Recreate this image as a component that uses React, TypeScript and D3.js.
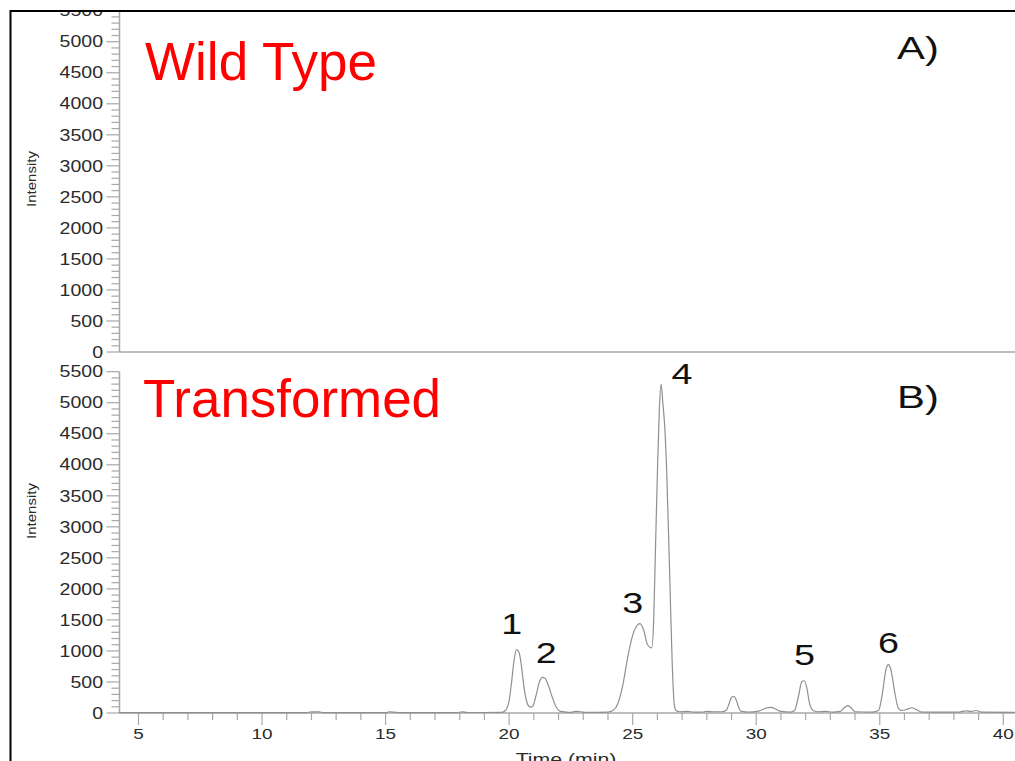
import React from "react";
import * as d3 from "d3";

// Chromatogram (Transformed) — time (min), intensity
const times = [
  4.2, 6, 8, 10, 11.8, 12.0, 12.3, 12.5, 15.0, 15.15, 15.4, 15.6, 17.9, 18.1, 18.3, 19.7,
  19.85, 20.0, 20.1, 20.2, 20.3, 20.4, 20.5, 20.6, 20.7, 20.8, 20.9,
  21.0, 21.1, 21.2, 21.35, 21.45, 21.6, 21.75, 21.9, 22.05, 22.3, 22.5, 22.7, 22.9, 23.1, 24.0,
  24.2, 24.4, 24.6, 24.8, 25.0, 25.2, 25.3, 25.45, 25.6, 25.77, 25.85, 25.92, 26.0, 26.08, 26.15,
  26.22, 26.3, 26.38, 26.5, 26.6, 26.68, 26.75, 26.9, 27.2, 27.5, 27.8, 28.0, 28.3, 28.6,
  28.8, 28.9, 29.0, 29.1, 29.2, 29.3, 29.4, 29.7,
  30.1, 30.4, 30.6, 30.8, 31.0, 31.4,
  31.55, 31.7, 31.85, 31.95, 32.05, 32.15, 32.3, 32.5, 32.8, 33.1, 33.4,
  33.55, 33.7, 33.85, 34.0, 34.7,
  34.95, 35.1, 35.25, 35.35, 35.45, 35.6, 35.75, 35.9, 36.1, 36.3, 36.5, 36.7, 38.2, 38.5, 38.7, 38.9, 39.1, 40.5,
];
const intensity = [
  5, 5, 5, 5, 5, 18, 18, 5, 5, 20, 12, 5, 5, 18, 8, 10,
  40, 200, 500, 850, 1020, 980, 750, 420, 200, 110, 95,
  150, 300, 470, 575, 560, 430, 250, 100, 30, 15, 10, 25, 20, 10, 15,
  40, 150, 450, 900, 1250, 1420, 1440, 1330, 1100, 1050, 1500, 2600, 3860, 4900, 5300,
  5000, 4600, 3860, 2200, 800, 150, 40, 20, 25, 15, 15, 25, 20, 20,
  50, 150, 250, 270, 200, 80, 25, 15,
  30, 80, 90, 60, 25, 15,
  40, 250, 510, 520, 400, 170, 40, 20, 25, 15, 25,
  80, 120, 80, 20, 15,
  40, 300, 700, 780, 700, 350, 80, 40, 60, 85, 50, 15, 15, 35, 25, 40, 15, 10,
];

const yTicksMajor = [0, 500, 1000, 1500, 2000, 2500, 3000, 3500, 4000, 4500, 5000, 5500];
const xTicksMajor = [5, 10, 15, 20, 25, 30, 35, 40];
const peakLabels = ["1", "2", "3", "4", "5", "6"];
const peakTimes = [20.1, 21.5, 25.0, 27.0, 31.95, 35.35];
const peakLabelValues = [1275, 800, 1610, 5300, 775, 960];

const W = 1015;
const H = 761;

export default function App() {
  const x = d3.scaleLinear().domain([5, 40]).range([138.5, 1003.3]);
  const yTop = d3.scaleLinear().domain([0, 5500]).range([352, 10.7]);
  const yBot = d3.scaleLinear().domain([0, 5500]).range([713, 371.7]);
  const axisX = 119.5;
  const axisColor = "#a8a8a8";
  const labelColor = "#2a2a2a";

  const minor = d3.range(0, 5501, 100);
  const xMinor = d3.range(5, 41, 1);

  const pts: [number, number][] = times.map((t, i) => [t, intensity[i]]);
  const line = d3
    .line<[number, number]>()
    .x((d) => x(d[0]))
    .y((d) => yBot(d[1]))
    .curve(d3.curveMonotoneX);

  const yAxis = (y: d3.ScaleLinear<number, number>, key: string) => (
    <g key={key}>
      <line x1={axisX} x2={axisX} y1={y(5500)} y2={y(0)} stroke={axisColor} strokeWidth={1.5} />
      {minor.map((v) => (
        <line
          key={v}
          x1={v % 500 === 0 ? axisX - 13 : axisX - 8}
          x2={axisX}
          y1={y(v)}
          y2={y(v)}
          stroke={axisColor}
          strokeWidth={1.2}
        />
      ))}
      {yTicksMajor.map((v) => (
        <text
          key={v}
          transform={`translate(103,${y(v) + 5.7}) scale(1.22,1)`}
          textAnchor="end"
          fontSize={16}
          fill={labelColor}
        >
          {v}
        </text>
      ))}
    </g>
  );

  return (
    <svg
      width={W}
      height={H}
      style={{ position: "absolute", left: 0, top: 0, background: "#fff" }}
      fontFamily="'Liberation Sans', Arial, Helvetica, sans-serif"
    >
      <defs>
        <clipPath id="frame">
          <rect x={11} y={12} width={W} height={H} />
        </clipPath>
      </defs>
      <rect x={0} y={0} width={W} height={H} fill="#fff" />
      <g clipPath="url(#frame)">
        {/* Top panel */}
        {yAxis(yTop, "top")}
        <line x1={axisX} x2={W} y1={yTop(0)} y2={yTop(0)} stroke={axisColor} strokeWidth={1.5} />
        <text
          transform="translate(36,179) rotate(-90) scale(1,0.8)"
          textAnchor="middle"
          fontSize={15}
          fill={labelColor}
        >
          Intensity
        </text>
        <text x={145} y={80} fontSize={54} fill="#ff0000" textLength={232} lengthAdjust="spacingAndGlyphs">
          Wild Type
        </text>
        <text transform="translate(897,59) scale(1.35,1)" fontSize={31} fill="#111">
          A)
        </text>

        {/* Bottom panel */}
        {yAxis(yBot, "bot")}
        <line x1={axisX} x2={W} y1={yBot(0)} y2={yBot(0)} stroke={axisColor} strokeWidth={1.5} />
        {xMinor.map((t) => (
          <line
            key={t}
            x1={x(t)}
            x2={x(t)}
            y1={yBot(0)}
            y2={yBot(0) + (t % 5 === 0 ? 12 : 7)}
            stroke={axisColor}
            strokeWidth={1.2}
          />
        ))}
        {xTicksMajor.map((t) => (
          <text
            key={t}
            transform={`translate(${x(t)},739) scale(1.35,1)`}
            textAnchor="middle"
            fontSize={14}
            fill={labelColor}
          >
            {t}
          </text>
        ))}
        <text transform="translate(566,765) scale(1.25,1)" textAnchor="middle" fontSize={17} fill={labelColor}>
          Time (min)
        </text>
        <text
          transform="translate(36,511) rotate(-90) scale(1,0.8)"
          textAnchor="middle"
          fontSize={15}
          fill={labelColor}
        >
          Intensity
        </text>
        <path d={line(pts) || ""} fill="none" stroke="#8f8f8f" strokeWidth={1.2} />
        <text x={143} y={417} fontSize={54} fill="#ff0000" textLength={298} lengthAdjust="spacingAndGlyphs">
          Transformed
        </text>
        <text transform="translate(897,408) scale(1.35,1)" fontSize={31} fill="#111">
          B)
        </text>
        {peakLabels.map((p, i) => (
          <text
            key={p}
            transform={`translate(${x(peakTimes[i])},${yBot(peakLabelValues[i])}) scale(1.3,1)`}
            textAnchor="middle"
            fontSize={29}
            fill="#111"
          >
            {p}
          </text>
        ))}
      </g>
      {/* frame */}
      <line x1={10.5} x2={10.5} y1={10} y2={H} stroke="#000" strokeWidth={2} />
      <line x1={10} x2={W} y1={11} y2={11} stroke="#000" strokeWidth={2} />
    </svg>
  );
}
